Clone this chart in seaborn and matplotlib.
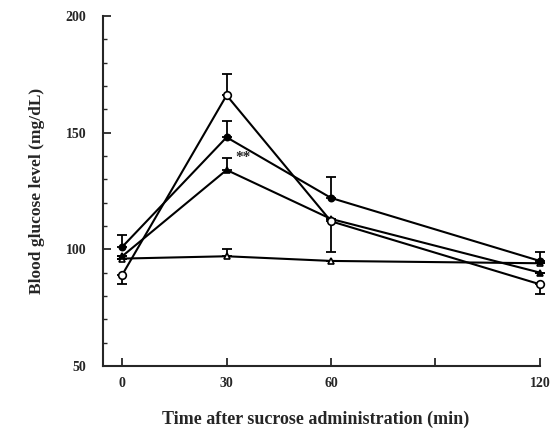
import matplotlib
matplotlib.use("Agg")
import matplotlib.pyplot as plt
import seaborn as sns
import numpy as np
import pandas as pd
from matplotlib.ticker import MultipleLocator

times = [0, 30, 60, 120]
open_circle = [89, 166, 112, 85]
open_circle_lo = [4, 0, 13, 4]
open_circle_hi = [0, 9, 0, 0]
filled_circle = [101, 148, 122, 95]
filled_circle_lo = [0, 0, 0, 0]
filled_circle_hi = [5, 7, 9, 4]
filled_triangle = [97, 134, 113, 90]
filled_triangle_lo = [0, 0, 0, 0]
filled_triangle_hi = [0, 5, 0, 0]
open_triangle = [96, 97, 95, 94]
open_triangle_lo = [0, 0, 0, 0]
open_triangle_hi = [0, 3, 0, 0]

xticks = [0, 30, 60, 90, 120]
xticklabels = ["0", "30", "60", "", "120"]
yticks = [50, 100, 150, 200]

sns.set_theme(style="ticks")
plt.rcParams['font.family'] = ['Liberation Serif', 'DejaVu Serif']
plt.rcParams['font.weight'] = 'bold'

fig = plt.figure(figsize=(5.6, 4.32), dpi=100)
ax = fig.add_axes([0.184, 0.153, 0.78, 0.81])

series = [
    (open_triangle, open_triangle_lo, open_triangle_hi, "^", "white", 5),
    (filled_triangle, filled_triangle_lo, filled_triangle_hi, "^", "black", 5),
    (filled_circle, filled_circle_lo, filled_circle_hi, "o", "black", 4.5),
    (open_circle, open_circle_lo, open_circle_hi, "o", "white", 5.5),
]

for vals, lo, hi, mk, fc, ms in series:
    df = pd.DataFrame({"t": times, "v": vals})
    ax.errorbar(times, vals, yerr=[lo, hi], fmt="none", ecolor="black",
                elinewidth=1.3, capsize=3.8, capthick=1.3, clip_on=False, zorder=2)
    sns.lineplot(data=df, x="t", y="v", ax=ax, color="black", linewidth=1.5,
                 marker=mk, markersize=ms, markerfacecolor=fc,
                 markeredgecolor="black", markeredgewidth=1.2, clip_on=False,
                 zorder=3)

ax.text(32.5, 139.5, "**", fontsize=11, fontweight="bold", ha="left", va="center")

ax.set_xlim(-5.5, 120)
ax.set_ylim(50, 200)
ax.set_xticks(xticks)
ax.set_xticklabels(xticklabels)
ax.set_yticks(yticks)
ax.yaxis.set_minor_locator(MultipleLocator(10))
ax.tick_params(axis="both", which="major", direction="in", length=6, width=1.3,
               labelsize=10)
ax.tick_params(axis="y", which="major", pad=12)
ax.tick_params(axis="x", which="major", pad=8)
ax.tick_params(axis="y", which="minor", direction="in", length=3, width=1)
for lab in ax.get_xticklabels() + ax.get_yticklabels():
    lab.set_fontweight("bold")

for s in ["top", "right"]:
    ax.spines[s].set_visible(False)
for s in ["left", "bottom"]:
    ax.spines[s].set_linewidth(1.5)

ax.set_xlabel("Time after sucrose administration (min)", fontsize=13,
              fontweight="bold")
ax.set_ylabel("Blood glucose level (mg/dL)", fontsize=12.5, fontweight="bold")
ax.xaxis.set_label_coords(0.487, -0.128)
ax.yaxis.set_label_coords(-0.133, 0.50)

fig.savefig("out.png", dpi=100)
